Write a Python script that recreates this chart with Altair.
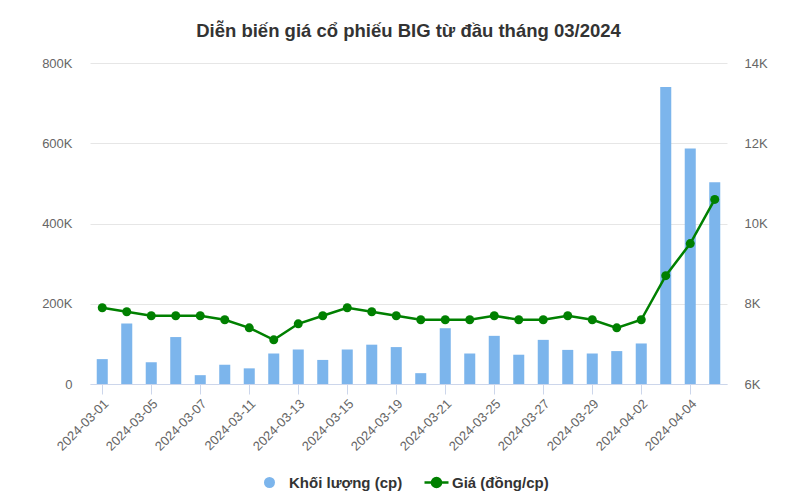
import altair as alt
import pandas as pd

dates = ["2024-03-01", "2024-03-04", "2024-03-05", "2024-03-06", "2024-03-07", "2024-03-08",
         "2024-03-11", "2024-03-12", "2024-03-13", "2024-03-14", "2024-03-15", "2024-03-18",
         "2024-03-19", "2024-03-20", "2024-03-21", "2024-03-22", "2024-03-25", "2024-03-26",
         "2024-03-27", "2024-03-28", "2024-03-29", "2024-04-01", "2024-04-02", "2024-04-03",
         "2024-04-04", "2024-04-05"]
volume = [62000, 151000, 54000, 117000, 22000, 48000, 39000, 76000, 86000, 60000, 86000, 98000,
          92000, 27000, 139000, 76000, 120000, 73000, 110000, 85000, 76000, 82000, 101000, 740000,
          587000, 503000]
price = [7900, 7800, 7700, 7700, 7700, 7600, 7400, 7100, 7500, 7700, 7900, 7800, 7700, 7600,
         7600, 7600, 7700, 7600, 7600, 7700, 7600, 7400, 7600, 8700, 9500, 10600]
tick_dates = ["2024-03-01", "2024-03-05", "2024-03-07", "2024-03-11", "2024-03-13", "2024-03-15",
              "2024-03-19", "2024-03-21", "2024-03-25", "2024-03-27", "2024-03-29", "2024-04-02",
              "2024-04-04"]
vol_name = "Khối lượng (cp)"
price_name = "Giá (đồng/cp)"
title_text = "Diễn biến giá cổ phiếu BIG từ đầu tháng 03/2024"

df = pd.DataFrame({"date": dates, "volume": volume, "price": price,
                   "s_vol": vol_name, "s_price": price_name})

FONT = "Liberation Sans, Arial, sans-serif"

x_enc = alt.X("date:O", sort=None, title=None,
              scale=alt.Scale(paddingInner=0.55, paddingOuter=0.275),
              axis=alt.Axis(values=tick_dates, labelAngle=-45, labelFontSize=13,
                            labelColor="#666666", labelFont=FONT, domainColor="#ccd6eb",
                            tickColor="#ccd6eb", tickSize=10, grid=False, labelPadding=3))

bars = alt.Chart(df).mark_bar().encode(
    x=x_enc,
    y=alt.Y("volume:Q", title=None,
            scale=alt.Scale(domain=[0, 800000], nice=False),
            axis=alt.Axis(values=[0, 200000, 400000, 600000, 800000], orient="left",
                          labelExpr="datum.value == 0 ? '0' : (datum.value/1000) + 'K'",
                          labelFontSize=13, labelColor="#666666", labelFont=FONT,
                          labelPadding=18, ticks=False, domain=False, grid=True,
                          gridColor="#e6e6e6")),
    color=alt.Color("s_vol:N", title=None,
                    scale=alt.Scale(domain=[vol_name], range=["#7cb5ec"]),
                    legend=alt.Legend(orient="none", legendX=172, legendY=412,
                                      symbolType="circle", symbolSize=121, padding=0,
                                      labelFontSize=15, labelFontWeight="bold",
                                      labelColor="#333333", labelFont=FONT, labelOffset=12,
                                      symbolStrokeWidth=0, symbolOpacity=1)),
)

line = alt.Chart(df).mark_line(strokeWidth=2.5, point=alt.OverlayMarkDef(filled=True, size=81, opacity=1)).encode(
    x=x_enc,
    y=alt.Y("price:Q", title=None,
            scale=alt.Scale(domain=[6000, 14000], nice=False),
            axis=alt.Axis(values=[6000, 8000, 10000, 12000, 14000], orient="right",
                          labelExpr="(datum.value/1000) + 'K'",
                          labelFontSize=13, labelColor="#666666", labelFont=FONT,
                          labelPadding=17, ticks=False, domain=False, grid=False)),
    color=alt.Color("s_price:N", title=None,
                    scale=alt.Scale(domain=[price_name], range=["#008000"]),
                    legend=alt.Legend(orient="none", legendX=333, legendY=406,
                                      symbolType="M-1,0H1M-0.38,0A0.38,0.38,0,1,1,0.38,0A0.38,0.38,0,1,1,-0.38,0Z",
                                      symbolSize=576, padding=0, symbolStrokeWidth=2.5,
                                      symbolFillColor="#008000", symbolStrokeColor="#008000",
                                      labelFontSize=15, labelFontWeight="bold",
                                      labelColor="#333333", labelFont=FONT, labelOffset=2)),
)

chart = alt.layer(bars, line).resolve_scale(
    y="independent", color="independent"
).resolve_legend(color="independent").properties(
    width=637, height=321,
    autosize=alt.AutoSizeParams(type="none"),
    padding={"left": 82, "top": 55, "right": 70, "bottom": 109},
    title=alt.TitleParams(title_text, fontSize=18.5, fontWeight="bold", color="#333333",
                          font=FONT, anchor="middle", offset=17),
).configure_view(stroke=None)

chart.save("out.html", embed_options={"renderer": "svg", "actions": False})
